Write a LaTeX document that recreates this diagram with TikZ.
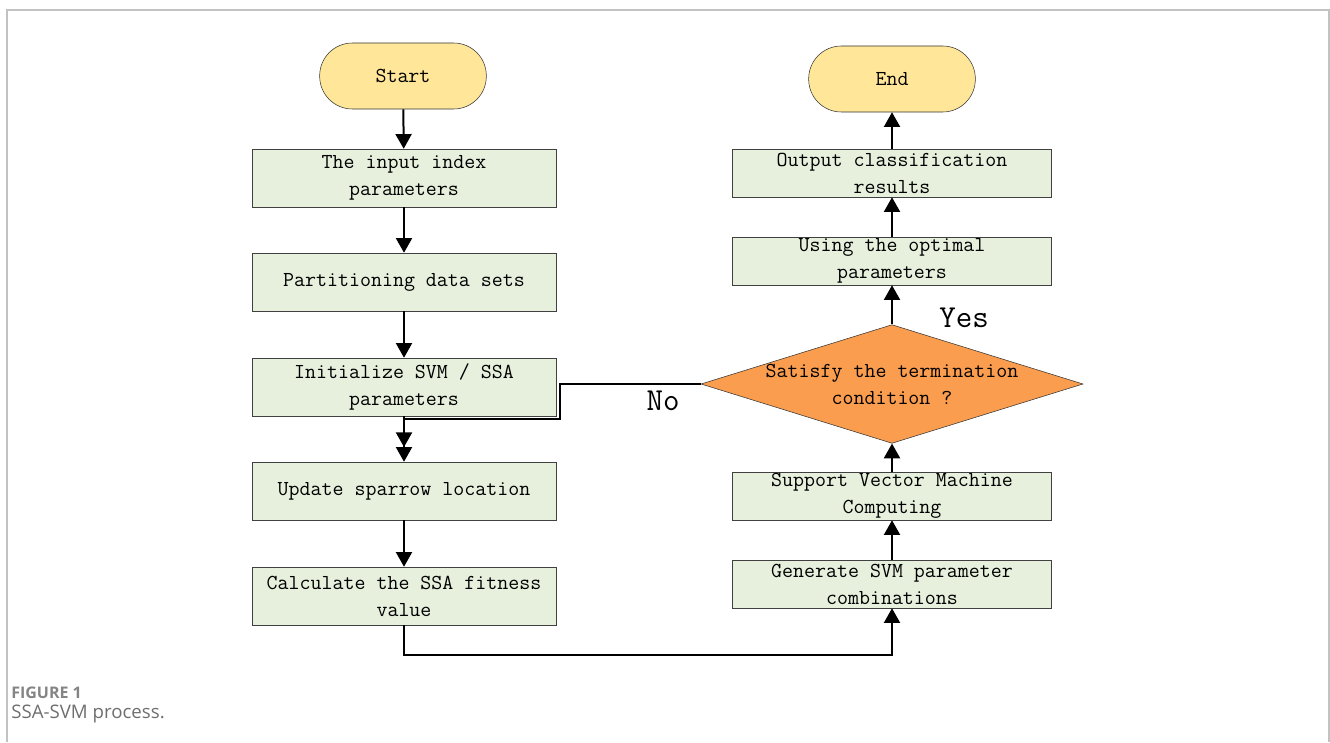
\documentclass[tikz,border=0pt]{standalone}
\usepackage{fontspec}
\newfontfamily\capfont{Open Sans}
\usetikzlibrary{arrows.meta,shapes.geometric}
\definecolor{procfill}{HTML}{E7F0DD}
\definecolor{termfill}{HTML}{FFE699}
\definecolor{decfill}{HTML}{FA9D4F}
\definecolor{framegray}{HTML}{C2C2C2}
\definecolor{capgray}{HTML}{6E6E6E}
\begin{document}
\begin{tikzpicture}[x=0.75pt,y=0.75pt,yscale=-1,xscale=1,
  txt/.style={font=\ttfamily\fontsize{16}{20.25}\selectfont},
  proc/.style={draw=black!75,fill=procfill,minimum width=228pt,minimum height=43.5pt,inner sep=0.75pt,align=center,txt},
  procr/.style={proc,minimum width=239pt,minimum height=36pt},
  term/.style={draw=black!80,fill=termfill,rounded corners=24.5pt,minimum width=125pt,minimum height=49.5pt,inner sep=0.75pt,txt},
  arr/.style={line width=1.5pt,-{Triangle[length=11pt,width=12pt]}}]
\useasboundingbox (0,0) rectangle (1330,742);

%Frame
\draw[framegray,line width=1.2pt] (7,742) -- (7,10) -- (1329,10) -- (1329,742);

%Left column
\node[term] (start) at (403,76) {Start};
\node[proc] (inp) at (404,178) {The input index\\parameters};
\node[proc] (part) at (404,282) {Partitioning data sets};
\node[proc] (init) at (404,387) {Initialize SVM / SSA\\parameters};
\node[proc] (upd) at (404,491) {Update sparrow location};
\node[proc] (fit) at (404,596) {Calculate the SSA fitness\\value};

%Right column
\node[procr] (gen) at (892,584) {Generate SVM parameter\\combinations};
\node[procr] (svm) at (892,496) {Support Vector Machine\\Computing};
\node[diamond,draw=black!80,fill=decfill,minimum width=286.5pt,minimum height=89pt,inner sep=0pt] (dec) at (892,384) {};
\node[txt,align=center,inner sep=0.75pt] (dectxt) at (dec) {Satisfy the termination\\condition ?};
\node[procr] (opt) at (892,261) {Using the optimal\\parameters};
\node[procr] (out) at (892,173) {Output classification\\results};
\node[term] (end) at (892,79) {End};

%Connectors
\draw[arr] (start) -- (inp);
\draw[arr] (inp) -- (part);
\draw[arr] (part) -- (init);
\draw[arr] (init) -- (upd);
\draw[arr] (upd) -- (fit);
\draw[arr] (fit.south) -- ++(0,30) -| (gen.south);
\draw[arr] (gen) -- (svm);
\draw[arr] (svm) -- (dec.south);
\draw[arr] (dec.north) -- (opt);
\draw[arr] (opt) -- (out);
\draw[arr] (out) -- (end);
\draw[arr,shorten >=11pt] (dec.west) -- (560,384) |- (404,419) -- (upd.north);

% Text Node
\node[font=\ttfamily\fontsize{24}{28}\selectfont] (yes) at (964,318) {Yes};
\node[font=\ttfamily\fontsize{24}{28}\selectfont] (no) at (663,401) {No};

% Caption
\node[anchor=west,inner sep=0pt,text=capgray!85,font=\capfont\bfseries\fontsize{12}{14}\selectfont] (fig) at (11,693) {FIGURE 1};
\node[anchor=west,inner sep=0pt,text=capgray,font=\capfont\fontsize{14}{16}\selectfont] (cap) at (11,714) {SSA-SVM process.};
\end{tikzpicture}
\end{document}
